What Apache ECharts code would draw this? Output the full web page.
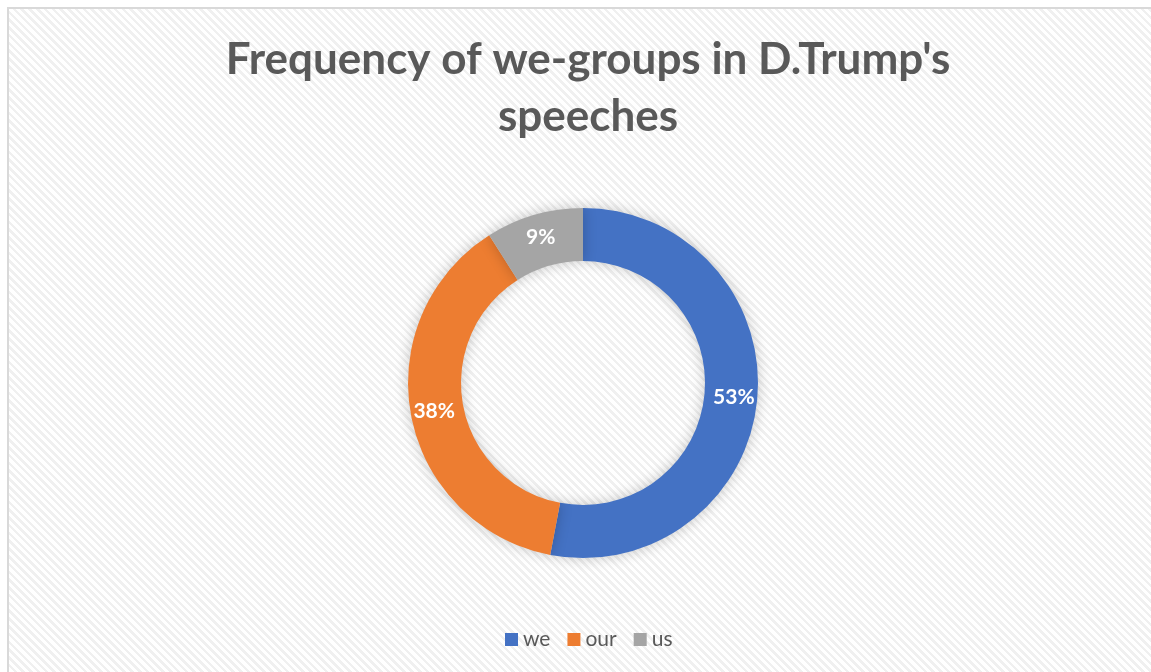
<!DOCTYPE html>
<html>
<head>
<meta charset="utf-8">
<script src="https://cdn.jsdelivr.net/npm/echarts@6/dist/echarts.min.js"></script>
<style>
  html, body { margin: 0; padding: 0; background: #fff; }
  #bg {
    position: absolute; left: 7px; top: 7px; width: 1150px; height: 670px;
    border-top: 2px solid #d9d9d9; border-left: 2px solid #d9d9d9;
    background: repeating-linear-gradient(45deg, #ffffff 0px, #ffffff 3px, #f0f0f0 3px, #f0f0f0 5.5px);
  }
  #chart { position: absolute; left: 0; top: 0; width: 1151px; height: 672px; }
</style>
</head>
<body>
<div id="bg"></div>
<div id="chart"></div>
<script>
  // data
  var groups = ['we', 'our', 'us'];
  var shares = [53, 38, 9];
  var colors = ['#4472c4', '#ed7d31', '#a5a5a5'];

  var chart = echarts.init(document.getElementById('chart'));

  var pieData = [];
  groups.forEach(function (g, i) {
    pieData.push({ name: g, value: shares[i], itemStyle: { color: colors[i] } });
  });

  var option = {
    backgroundColor: 'transparent',
    animation: false,
    title: {
      text: "Frequency of we-groups in D.Trump's\nspeeches",
      left: 583,
      top: 26,
      textAlign: 'center',
      textStyle: {
        fontFamily: 'Lato',
        fontWeight: 'bold',
        fontSize: 44,
        lineHeight: 57,
        color: '#595959'
      }
    },
    legend: {
      data: groups,
      left: 500,
      top: 624,
      itemWidth: 13,
      itemHeight: 13,
      itemGap: 17,
      icon: 'rect',
      textStyle: { fontFamily: 'Lato', fontSize: 21, color: '#595959' }
    },
    series: [{
      name: 'we-groups',
      type: 'pie',
      center: [583, 383],
      radius: [122, 175],
      startAngle: 90,
      clockwise: true,
      avoidLabelOverlap: false,
      itemStyle: {
        shadowBlur: 14,
        shadowColor: 'rgba(0,0,0,0.22)'
      },
      label: {
        show: true,
        position: 'inside',
        formatter: '{c}%',
        fontFamily: 'Lato',
        fontWeight: 'bold',
        fontSize: 21,
        color: '#ffffff'
      },
      labelLine: { show: false },
      emphasis: { disabled: true },
      data: pieData
    }]
  };
  chart.setOption(option);
</script>
</body>
</html>
